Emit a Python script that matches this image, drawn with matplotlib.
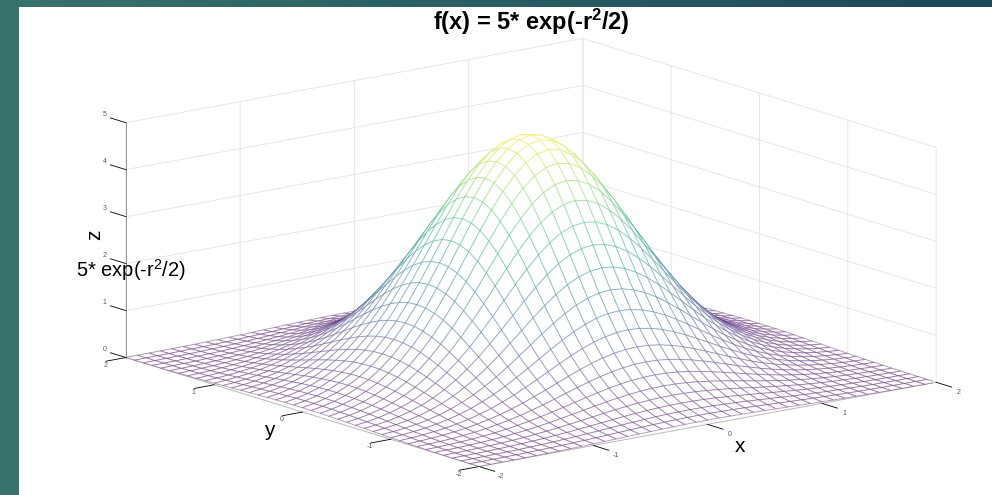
import numpy as np
import matplotlib
matplotlib.use('Agg')
import matplotlib.pyplot as plt
from matplotlib.patches import Rectangle
from mpl_toolkits.mplot3d import proj3d

plt.rcParams['font.family'] = ['Liberation Sans', 'DejaVu Sans']
plt.rcParams['mathtext.default'] = 'regular'
plt.rcParams['axes.unicode_minus'] = False

# surface height along the line y = 0, x from -2 to 2
grid_x = [-2.0, -1.9, -1.8, -1.7, -1.6, -1.5, -1.4, -1.3, -1.2, -1.1, -1.0,
          -0.9, -0.8, -0.7, -0.6, -0.5, -0.4, -0.3, -0.2, -0.1, 0.0,
          0.1, 0.2, 0.3, 0.4, 0.5, 0.6, 0.7, 0.8, 0.9, 1.0,
          1.1, 1.2, 1.3, 1.4, 1.5, 1.6, 1.7, 1.8, 1.9, 2.0]
profile = [0.092, 0.135, 0.196, 0.278, 0.387, 0.527, 0.704, 0.923, 1.185, 1.491, 1.839,
           2.224, 2.636, 3.063, 3.488, 3.894, 4.261, 4.570, 4.804, 4.950, 5.000,
           4.950, 4.804, 4.570, 4.261, 3.894, 3.488, 3.063, 2.636, 2.224, 1.839,
           1.491, 1.185, 0.923, 0.704, 0.527, 0.387, 0.278, 0.196, 0.135, 0.092]
xy_ticks = [-2, -1, 0, 1, 2]
z_ticks = [0, 1, 2, 3, 4, 5]

W, H = 992, 495
fig = plt.figure(figsize=(W / 100, H / 100), dpi=100)

# slide background
bg = fig.add_axes([0, 0, 1, 1], zorder=-2)
grad = np.linspace(0, 1, 256).reshape(1, -1)
bg.imshow(grad, aspect='auto', extent=[0, W, 0, H],
          cmap=matplotlib.colors.LinearSegmentedColormap.from_list('slide', ['#38736c', '#1c4858']))
bg.add_patch(Rectangle((19, 0), W - 19, H - 7, color='white', lw=0))
bg.set_axis_off()

# square 3d axes, bigger than the figure so the box lands where it should
side = 827
cx, cy = 531, H - 252.5
ax = fig.add_axes([(cx - 0.5135 * side) / W, (cy - 0.5135 * side) / H, side / W, side / H],
                  projection='3d', proj_type='ortho')
ax.patch.set_visible(False)
ax.set_box_aspect((577.6, 577.6, 241.8))
ax.view_init(elev=13.8, azim=-127.7)

X, Y = np.meshgrid(grid_x, grid_x)
Z = np.outer(profile, profile) / 5.0

cell = (Z[:-1, :-1] + Z[1:, 1:] + Z[:-1, 1:] + Z[1:, :-1]) / 4.0
edge_cols = plt.cm.viridis(cell.ravel() / 5.0)
edge_cols[:, 3] = 0.38

ax.plot_surface(X, Y, Z, rstride=1, cstride=1, color='white', shade=False,
                edgecolors=edge_cols, linewidth=0.7, antialiased=True)

ax.set_xlim(-2, 2)
ax.set_ylim(-2, 2)
ax.set_zlim(0, 5)
ax.set_xticks(xy_ticks)
ax.set_yticks(xy_ticks)
ax.set_zticks(z_ticks)
ax.xaxis.set_major_formatter(matplotlib.ticker.NullFormatter())
ax.yaxis.set_major_formatter(matplotlib.ticker.NullFormatter())
ax.zaxis.set_major_formatter(matplotlib.ticker.NullFormatter())

for axis in (ax.xaxis, ax.yaxis, ax.zaxis):
    axis.set_pane_color((1, 1, 1, 0))
    axis.pane.set_edgecolor((1, 1, 1, 0))
    axis.line.set_color('#bbbbbb')
    axis.line.set_linewidth(0.6)
    axis._axinfo['grid'].update(color='#e6e6e6', linewidth=0.7)
    axis._axinfo['tick'].update(inward_factor=0.0, outward_factor=-0.55, linewidth={True: 0.6, False: 0.6}, color='#555555')
ax.zaxis.line.set_color('#888888')
# z ticks run along y like matlab, not along x
ax.zaxis._axinfo['tick'].update(outward_factor=0.55)
ax.zaxis._get_tickdir = lambda *a: 1


def tick_text(x, y, z, s):
    # the 3d point goes through the axes projection, text stays a plain 2d one
    px, py, _ = proj3d.proj_transform(x, y, z, ax.get_proj())
    ax.text2D(px, py, s, transform=ax.transData, fontsize=5, color='#555555', ha='center', va='center')


for t in xy_ticks:
    tick_text(t, -2.25, -0.07, str(t))
    tick_text(-2.18, t, -0.08, str(t))
for t in z_ticks:
    tick_text(-2, 2.24, t + 0.03, str(t))

# labels sit on the figure like on the slide
fig.text(531 / W, 1 - 22 / H, 'f(x) = 5* exp(-r$^{2}$/2)', fontsize=17, fontweight='bold',
         ha='center', va='center', color='black')
fig.text(95 / W, 1 - 235 / H, 'z', fontsize=15, rotation=90, ha='center', va='center')
fig.text(130.5 / W, 1 - 270 / H, '5* exp(-r$^{2}$/2)', fontsize=14.5, ha='center', va='center')
fig.text(269 / W, 1 - 431 / H, 'y', fontsize=15, ha='center', va='center')
fig.text(740 / W, 1 - 446 / H, 'x', fontsize=15, ha='center', va='center')

fig.savefig('out.png', dpi=100)
